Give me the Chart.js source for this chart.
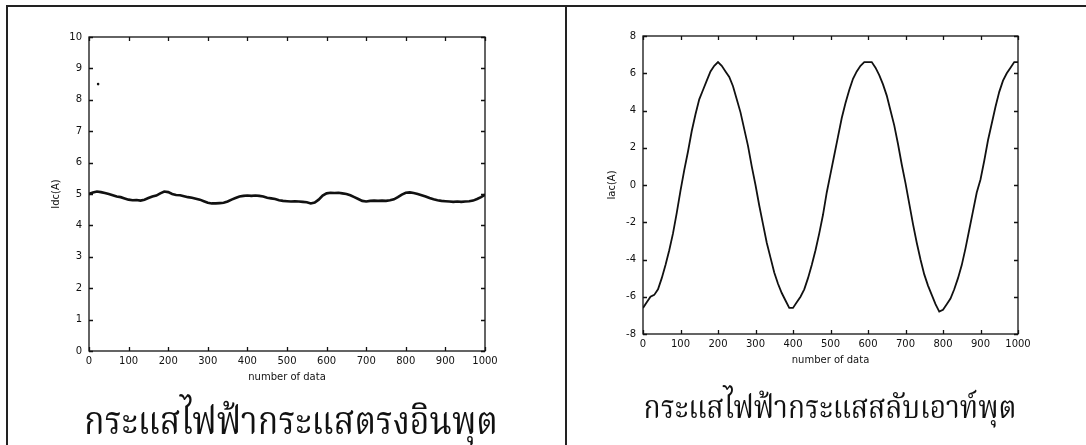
<!DOCTYPE html>
<html>
<head>
<meta charset="utf-8">
<script src="https://cdn.jsdelivr.net/npm/chart.js@4.4.1/dist/chart.umd.min.js"></script>
<style>
  html,body{margin:0;padding:0;background:#fff;}
  body{width:1086px;height:445px;position:relative;overflow:hidden;}
  .frame{position:absolute;left:6px;top:5px;width:1100px;height:460px;border:2px solid #222;box-sizing:border-box;}
  .divider{position:absolute;left:565px;top:5px;width:2px;height:445px;background:#222;}
  .wrap{position:absolute;top:0;height:445px;}
  .thai{position:absolute;font-family:"Noto Serif Thai","Norasi","TH Sarabun New","Noto Sans Thai Looped","Noto Sans Thai","Loma",sans-serif;color:#111;white-space:nowrap;transform:translateX(-50%) scaleX(0.88);transform-origin:50% 50%;}
</style>
</head>
<body>
<div class="frame"></div>
<div class="divider"></div>
<div class="wrap" style="left:0;width:566px;"><canvas id="dc" width="566" height="445"></canvas></div>
<div class="wrap" style="left:566px;width:520px;"><canvas id="ac" width="520" height="445"></canvas></div>
<div class="thai" id="t1" style="left:291px;top:393px;font-size:38.5px;">กระแสไฟฟ้ากระแสตรงอินพุต</div>
<div class="thai" id="t2" style="left:830px;top:384px;font-size:32px;">กระแสไฟฟ้ากระแสสลับเอาท์พุต</div>
<script>
// ---- data ----
const sampleIndex = [0,10,20,30,40,50,60,70,80,90,100,110,120,130,140,150,160,170,180,190,200,210,220,230,240,250,260,270,280,290,300,310,320,330,340,350,360,370,380,390,400,410,420,430,440,450,460,470,480,490,500,510,520,530,540,550,560,570,580,590,600,610,620,630,640,650,660,670,680,690,700,710,720,730,740,750,760,770,780,790,800,810,820,830,840,850,860,870,880,890,900,910,920,930,940,950,960,970,980,990,1000];
const idcValues = [5.0,5.05,5.08,5.06,5.03,5.0,4.96,4.92,4.9,4.86,4.82,4.8,4.81,4.79,4.82,4.87,4.92,4.95,5.02,5.08,5.06,5.0,4.97,4.96,4.93,4.9,4.88,4.85,4.82,4.77,4.72,4.7,4.7,4.71,4.72,4.76,4.82,4.87,4.92,4.94,4.95,4.94,4.95,4.94,4.92,4.88,4.86,4.84,4.8,4.78,4.77,4.76,4.77,4.76,4.75,4.74,4.7,4.73,4.82,4.95,5.02,5.04,5.03,5.04,5.02,5.0,4.96,4.9,4.84,4.78,4.76,4.78,4.79,4.78,4.79,4.78,4.8,4.83,4.9,4.98,5.04,5.05,5.03,5.0,4.96,4.92,4.87,4.83,4.8,4.78,4.77,4.76,4.75,4.76,4.75,4.76,4.77,4.79,4.84,4.9,4.98];
const idcOutlierX = [23];
const idcOutlierY = [8.5];
const iacValues = [-6.6,-6.3,-6.0,-5.9,-5.6,-5.0,-4.3,-3.5,-2.6,-1.5,-0.3,0.8,1.8,2.9,3.8,4.6,5.1,5.6,6.1,6.4,6.6,6.4,6.1,5.8,5.3,4.6,3.9,3.0,2.1,1.0,0.0,-1.1,-2.1,-3.1,-3.9,-4.7,-5.3,-5.8,-6.2,-6.6,-6.6,-6.3,-6.0,-5.6,-5.0,-4.3,-3.5,-2.6,-1.6,-0.4,0.6,1.6,2.6,3.6,4.4,5.1,5.7,6.1,6.4,6.6,6.6,6.6,6.3,5.9,5.4,4.8,4.0,3.2,2.2,1.1,0.1,-1.0,-2.1,-3.1,-4.0,-4.8,-5.4,-5.9,-6.4,-6.8,-6.7,-6.4,-6.1,-5.6,-5.0,-4.3,-3.4,-2.4,-1.4,-0.4,0.3,1.3,2.4,3.3,4.2,5.0,5.6,6.0,6.3,6.6,6.6];
const xTickValues = [0,100,200,300,400,500,600,700,800,900,1000];
const idcTickValues = [0,1,2,3,4,5,6,7,8,9,10];
const iacTickValues = [-8,-6,-4,-2,0,2,4,6,8];
const xAxisLabel = 'number of data';
const idcAxisLabel = 'Idc(A)';
const iacAxisLabel = 'Iac(A)';

// ---- helpers ----
const INK = '#111';
const tickFont = {family:'DejaVu Sans', size:10};

const matlabBox = {
  id:'matlabBox',
  afterDraw(chart){
    const {ctx, chartArea:a, scales} = chart;
    const x = scales.x, y = scales.y;
    ctx.save();
    ctx.strokeStyle = INK;
    ctx.lineWidth = 1.3;
    ctx.strokeRect(a.left, a.top, a.right - a.left, a.bottom - a.top);
    ctx.beginPath();
    x.ticks.forEach(t=>{
      const p = Math.round(x.getPixelForValue(t.value)) + 0.5;
      ctx.moveTo(p, a.bottom); ctx.lineTo(p, a.bottom - 4);
      ctx.moveTo(p, a.top); ctx.lineTo(p, a.top + 4);
    });
    y.ticks.forEach(t=>{
      const p = Math.round(y.getPixelForValue(t.value)) + 0.5;
      ctx.moveTo(a.left, p); ctx.lineTo(a.left + 4, p);
      ctx.moveTo(a.right, p); ctx.lineTo(a.right - 4, p);
    });
    ctx.stroke();
    ctx.restore();
  }
};

function makeChart(id, yVals, yMin, yMax, yTicks, yLabel, pad, yW, yTitlePad, extra, lineW){
  const pts = sampleIndex.map((v,i)=>({x:v, y:yVals[i]}));
  const datasets = [{data:pts, borderColor:INK, borderWidth:lineW, pointRadius:0, tension:0, fill:false}];
  if (extra) datasets.push(extra);
  return new Chart(document.getElementById(id), {
    type:'line',
    data:{datasets},
    plugins:[matlabBox],
    options:{
      responsive:false, animation:false,
      layout:{padding:pad},
      plugins:{legend:{display:false}, tooltip:{enabled:false}},
      scales:{
        x:{type:'linear', min:0, max:1000,
           afterBuildTicks:s=>{s.ticks = xTickValues.map(v=>({value:v}));},
           afterFit:s=>{s.height = 40;},
           grid:{display:false, drawTicks:false}, border:{display:false},
           ticks:{color:INK, font:tickFont, padding:4, maxRotation:0, autoSkip:false, callback:v=>String(v)},
           title:{display:true, text:xAxisLabel, color:INK, font:tickFont, padding:{top:0,bottom:8}}},
        y:{type:'linear', min:yMin, max:yMax,
           afterBuildTicks:s=>{s.ticks = yTicks.map(v=>({value:v}));},
           afterFit:s=>{s.width = yW;},
           grid:{display:false, drawTicks:false}, border:{display:false},
           ticks:{color:INK, font:tickFont, padding:7, autoSkip:false, callback:v=>String(v)},
           title:{display:true, text:yLabel, color:INK, font:tickFont, padding:{top:yTitlePad,bottom:0}}}
      }
    }
  });
}

makeChart('dc', idcValues, 0, 10, idcTickValues, idcAxisLabel,
  {left:30, right:81, top:37, bottom:54}, 59, 20,
  {type:'scatter', data:idcOutlierX.map((v,i)=>({x:v,y:idcOutlierY[i]})), pointRadius:1.3, pointBackgroundColor:INK, pointBorderWidth:0, showLine:false},
  2.6);
makeChart('ac', iacValues, -8, 8, iacTickValues, iacAxisLabel,
  {left:20, right:68, top:36, bottom:71}, 57, 20, null, 1.8);
</script>
</body>
</html>
